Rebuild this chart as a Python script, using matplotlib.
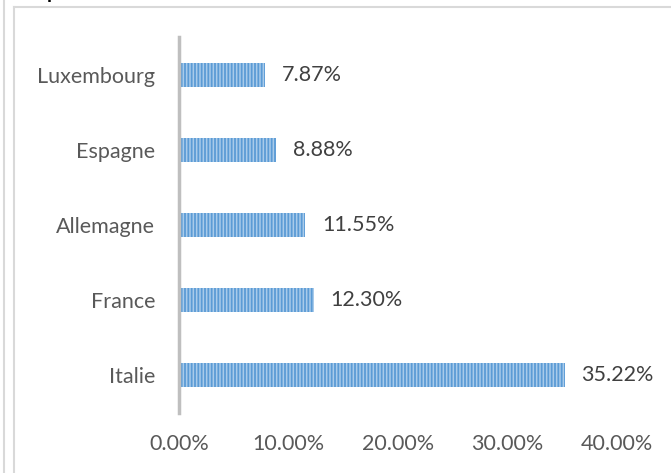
import matplotlib.pyplot as plt
from matplotlib.lines import Line2D
from matplotlib.ticker import FuncFormatter

plt.rcParams['font.family'] = ['Lato', 'DejaVu Sans']
plt.rcParams['hatch.color'] = '#5B9BD5'
plt.rcParams['hatch.linewidth'] = 1.3

# Data
pays = ['Italie', 'France', 'Allemagne', 'Espagne', 'Luxembourg']
parts = [35.22, 12.30, 11.55, 8.88, 7.87]
ticks = [0, 10, 20, 30, 40]

W, H = 671, 473
fig = plt.figure(figsize=(W / 100, H / 100), dpi=100)

# Chart frame lines (figure coordinates)
grey = '#D9D9D9'
fig.add_artist(Line2D([3.5 / W, 3.5 / W], [0, 1], color=grey, lw=1.5))
fig.add_artist(Line2D([13.5 / W, 13.5 / W], [0, 1 - 7 / H], color=grey, lw=1.5))
fig.add_artist(Line2D([13.5 / W, 1], [1 - 7 / H, 1 - 7 / H], color=grey, lw=1.5))

# Clipped title fragment (title sits above the visible area)
fig.text(47 / W, 1 + 1 / H, 'p', fontsize=14, fontweight='bold', color='black',
         va='baseline', ha='left')

ax = fig.add_axes([179 / W, 60 / H, 438 / W, 375.5 / H])
bars = ax.barh(range(len(pays)), parts, height=0.32, color='#A9CBEA',
               edgecolor='#5B9BD5', hatch='|||||', linewidth=0)

for i, v in enumerate(parts):
    ax.text(v + 1.5, i, f'{v:.2f}%', va='center', ha='left',
            fontsize=15.5, color='#404040')

ax.set_xlim(0, 40)
ax.set_ylim(-0.5, 4.5)
ax.set_xticks(ticks)
ax.xaxis.set_major_formatter(FuncFormatter(lambda x, p: f'{x:.2f}%'))
ax.set_yticks(range(len(pays)))
ax.set_yticklabels(pays)

for s in ['top', 'right', 'bottom']:
    ax.spines[s].set_visible(False)
ax.spines['left'].set_color('#BFBFBF')
ax.spines['left'].set_linewidth(2.5)

ax.tick_params(axis='both', length=0, labelsize=15.5, labelcolor='#595959')
ax.tick_params(axis='y', pad=17)
ax.tick_params(axis='x', pad=15)

fig.savefig('out.png', dpi=100)
